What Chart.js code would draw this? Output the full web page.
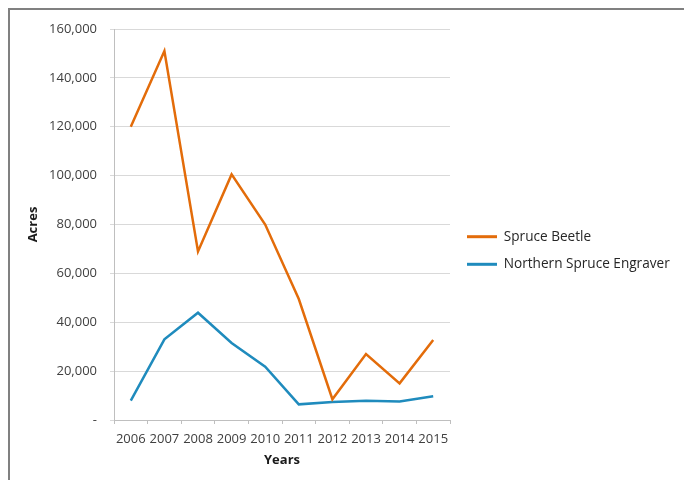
<!DOCTYPE html>
<html>
<head>
<meta charset="utf-8">
<script src="https://cdn.jsdelivr.net/npm/chart.js@4/dist/chart.umd.min.js"></script>
<style>
  html, body { margin: 0; padding: 0; background: #fff; }
  #wrap { position: relative; width: 684px; height: 480px; overflow: hidden; }
  #frame {
    position: absolute; left: 8px; top: 8px; right: -4px; bottom: -4px;
    border-top: 2px solid #808080; border-left: 2px solid #808080;
  }
  canvas { position: absolute; left: 0; top: 0; }
</style>
</head>
<body>
<div id="wrap">
  <div id="frame"></div>
  <canvas id="chart" width="684" height="480"></canvas>
</div>
<script>
const years = ["2006", "2007", "2008", "2009", "2010", "2011", "2012", "2013", "2014", "2015"];
const spruceBeetle = [120000, 151000, 69000, 100500, 80000, 49500, 8500, 27000, 15000, 32700];
const northernEngraver = [7900, 33000, 43900, 31500, 21800, 6400, 7400, 7900, 7600, 9700];
const yTicks = [0, 20000, 40000, 60000, 80000, 100000, 120000, 140000, 160000];

const FONT = "'Open Sans', 'Liberation Sans', sans-serif";
const TEXT = "#404040";

// legend on the right is wider than Chart.js allows by default; pin its width
// and nudge it a little away from the plot
const legendBox = {
  id: "legendBox",
  beforeLayout(chart) {
    const lg = chart.legend;
    if (lg && !lg._pinned) {
      const fit = lg.fit.bind(lg);
      lg.fit = () => { fit(); lg.width = 234; };
      lg._pinned = true;
    }
  },
  afterLayout(chart) {
    chart.legend.left += 3;
    chart.legend.right += 3;
  },
};

const ctx = document.getElementById("chart").getContext("2d");

new Chart(ctx, {
  type: "line",
  data: {
    labels: years,
    datasets: [
      {
        label: "Spruce Beetle",
        data: spruceBeetle,
        borderColor: "#e36c0a",
        backgroundColor: "#e36c0a",
        borderWidth: 2.5,
        pointRadius: 0,
        tension: 0,
      },
      {
        label: "Northern Spruce Engraver",
        data: northernEngraver,
        borderColor: "#1f8bbd",
        backgroundColor: "#1f8bbd",
        borderWidth: 2.5,
        pointRadius: 0,
        tension: 0,
      },
    ],
  },
  plugins: [legendBox],
  options: {
    responsive: false,
    animation: false,
    layout: { padding: { left: 21, top: 29, right: 0, bottom: 8 } },
    plugins: {
      tooltip: { enabled: false },
      legend: {
        position: "right",
        labels: {
          font: { family: FONT, size: 13.6 },
          color: "#262626",
          boxWidth: 30,
          boxHeight: 3,
          padding: 14,
          generateLabels(chart) {
            const items = Chart.defaults.plugins.legend.labels.generateLabels(chart);
            return items.map(it => ({ ...it, lineWidth: 0, fillStyle: it.strokeStyle }));
          },
        },
      },
    },
    scales: {
      x: {
        offset: true,
        grid: {
          offset: true,
          drawOnChartArea: false,
          drawTicks: true,
          tickLength: 4,
          color: "#bfbfbf",
        },
        border: { color: "#bfbfbf" },
        ticks: {
          font: { family: FONT, size: 13 },
          color: TEXT,
          padding: 7,
          maxRotation: 0,
          autoSkip: false,
        },
        title: {
          display: true,
          text: "Years",
          font: { family: FONT, size: 13, weight: "bold" },
          color: "#1a1a1a",
          padding: 4,
        },
        afterFit(scale) { scale.height = 52; },
      },
      y: {
        min: 0,
        max: 160000,
        afterBuildTicks(scale) { scale.ticks = yTicks.map(v => ({ value: v })); },
        grid: { color: "#d9d9d9", tickLength: 4, drawTicks: true },
        border: { color: "#bfbfbf" },
        ticks: {
          font: { family: FONT, size: 13 },
          color: TEXT,
          padding: 13,
          callback: v => (v === 0 ? "-" : v.toLocaleString("en-US")),
        },
        title: {
          display: true,
          text: "Acres",
          font: { family: FONT, size: 13, weight: "bold" },
          color: "#1a1a1a",
          padding: 4,
        },
        afterFit(scale) { scale.width = 93; },
      },
    },
  },
});
</script>
</body>
</html>
